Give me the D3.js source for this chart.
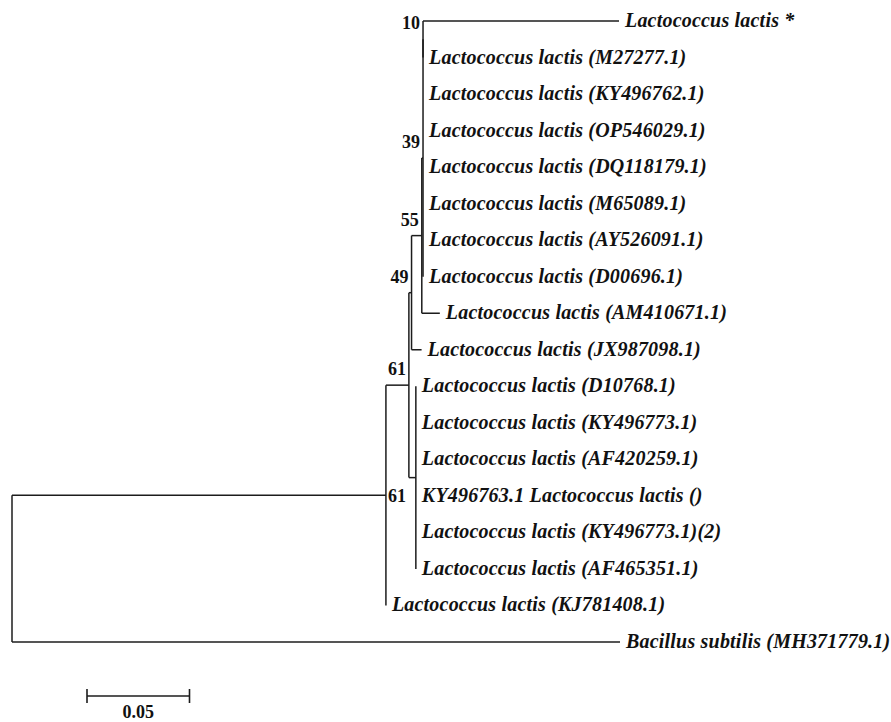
<!DOCTYPE html>
<html>
<head>
<meta charset="utf-8">
<script src="https://cdn.jsdelivr.net/npm/d3@7"></script>
<style>
  body { margin: 0; background: #fff; }
  #chart-container { width: 891px; height: 722px; }
</style>
</head>
<body>
<div id="chart-container"></div>
<script>
// Tree as parallel arrays (children listed top to bottom)
const nodeIds = ["root", "n61b", "n61a", "n49", "n55", "n39", "n10",
  "L1", "L2", "L3", "L4", "L5", "L6", "L7", "L8", "L9", "L10", "nC",
  "L11", "L12", "L13", "L14", "L15", "L16", "L17", "L18"];
const parentIds = [null, "root", "n61b", "n61a", "n49", "n55", "n39",
  "n10", "n10", "n39", "n39", "n39", "n39", "n39", "n39", "n55", "n49", "n61a",
  "nC", "nC", "nC", "nC", "nC", "nC", "n61b", "root"];
const branchLengths = [0, 0.1824, 0.0112, 0.0013, 0.005, 0.0006, 0,
  0.0956, 0, 0, 0, 0, 0, 0, 0, 0.0088, 0.0049, 0.0034,
  0, 0, 0, 0, 0, 0, 0, 0.2966];
const supportValues = {n10: 10, n39: 39, n55: 55, n49: 49, n61a: 61, n61b: 61};
const leafLabels = {
  L1: "Lactococcus lactis *",
  L2: "Lactococcus lactis (M27277.1)",
  L3: "Lactococcus lactis (KY496762.1)",
  L4: "Lactococcus lactis (OP546029.1)",
  L5: "Lactococcus lactis (DQ118179.1)",
  L6: "Lactococcus lactis (M65089.1)",
  L7: "Lactococcus lactis (AY526091.1)",
  L8: "Lactococcus lactis (D00696.1)",
  L9: "Lactococcus lactis (AM410671.1)",
  L10: "Lactococcus lactis (JX987098.1)",
  L11: "Lactococcus lactis (D10768.1)",
  L12: "Lactococcus lactis (KY496773.1)",
  L13: "Lactococcus lactis (AF420259.1)",
  L14: "KY496763.1 Lactococcus lactis ()",
  L15: "Lactococcus lactis (KY496773.1)(2)",
  L16: "Lactococcus lactis (AF465351.1)",
  L17: "Lactococcus lactis (KJ781408.1)",
  L18: "Bacillus subtilis (MH371779.1)"
};
const scaleBarValue = 0.05;

const width = 891, height = 722;
const svg = d3.select("#chart-container").append("svg")
  .attr("width", width).attr("height", height);

const rows = nodeIds.map((id, i) => ({id, parent: parentIds[i], len: branchLengths[i]}));
const root = d3.stratify().id(d => d.id).parentId(d => d.parent)(rows);

// cumulative distance from root
root.each(d => { d.dist = d.parent ? d.parent.dist + d.data.len : 0; });

const leaves = root.leaves();
const x = d3.scaleLinear().domain([0, 0.1]).range([12, 12 + 205]);
const y = d3.scaleLinear().domain([0, leaves.length - 1]).range([21, 642]);

leaves.forEach((d, i) => { d.py = y(i); });
root.eachAfter(d => {
  if (d.children) d.py = (d.children[0].py + d.children[d.children.length - 1].py) / 2;
});

const stroke = "#1c1c1c";
const g = svg.append("g").attr("fill", "none").attr("stroke", stroke).attr("stroke-width", 1.5);

// horizontal branches
g.selectAll("line.h")
  .data(root.descendants().slice(1))
  .join("line")
  .attr("x1", d => x(d.parent.dist)).attr("x2", d => x(d.dist))
  .attr("y1", d => d.py).attr("y2", d => d.py);

// vertical connectors
g.selectAll("line.v")
  .data(root.descendants().filter(d => d.children))
  .join("line")
  .attr("x1", d => x(d.dist)).attr("x2", d => x(d.dist))
  .attr("y1", d => d.children[0].py)
  .attr("y2", d => d.children[d.children.length - 1].py);

// leaf labels
svg.append("g")
  .attr("font-family", "'Liberation Serif', 'Times New Roman', serif")
  .attr("font-style", "italic").attr("font-weight", "bold")
  .attr("font-size", 20).attr("letter-spacing", 0.2).attr("fill", "#111")
  .selectAll("text")
  .data(leaves)
  .join("text")
  .attr("x", d => x(d.dist) + 6)
  .attr("y", d => d.py)
  .attr("dy", "0.3em")
  .text(d => leafLabels[d.id]);

// bootstrap values
svg.append("g")
  .attr("font-family", "'Liberation Serif', 'Times New Roman', serif")
  .attr("font-weight", "bold").attr("font-size", 18).attr("fill", "#111")
  .selectAll("text")
  .data(root.descendants().filter(d => supportValues[d.id] != null))
  .join("text")
  .each(function(d) {
    const t = d3.select(this);
    // a node on a long stem gets its value beside the node, others above-left
    if (x(d.dist) - x(d.parent.dist) > 100) {
      t.attr("x", x(d.dist) + 2).attr("y", d.py).attr("dy", "0.35em").attr("text-anchor", "start");
    } else {
      t.attr("x", x(d.dist) - 3).attr("y", d.py - 10).attr("text-anchor", "end");
    }
  })
  .text(d => supportValues[d.id]);

// scale bar
const sbY = 696, sbX0 = x(0) + 75, sbX1 = sbX0 + (x(scaleBarValue) - x(0));
const sb = svg.append("g").attr("stroke", stroke).attr("stroke-width", 1.6);
sb.append("line").attr("x1", sbX0).attr("x2", sbX1).attr("y1", sbY).attr("y2", sbY);
sb.append("line").attr("x1", sbX0).attr("x2", sbX0).attr("y1", sbY - 7).attr("y2", sbY + 7);
sb.append("line").attr("x1", sbX1).attr("x2", sbX1).attr("y1", sbY - 7).attr("y2", sbY + 7);
svg.append("text")
  .attr("x", (sbX0 + sbX1) / 2).attr("y", sbY + 22)
  .attr("text-anchor", "middle")
  .attr("font-family", "'Liberation Serif', 'Times New Roman', serif")
  .attr("font-weight", "bold").attr("font-size", 18).attr("fill", "#111")
  .text(scaleBarValue);
</script>
</body>
</html>
